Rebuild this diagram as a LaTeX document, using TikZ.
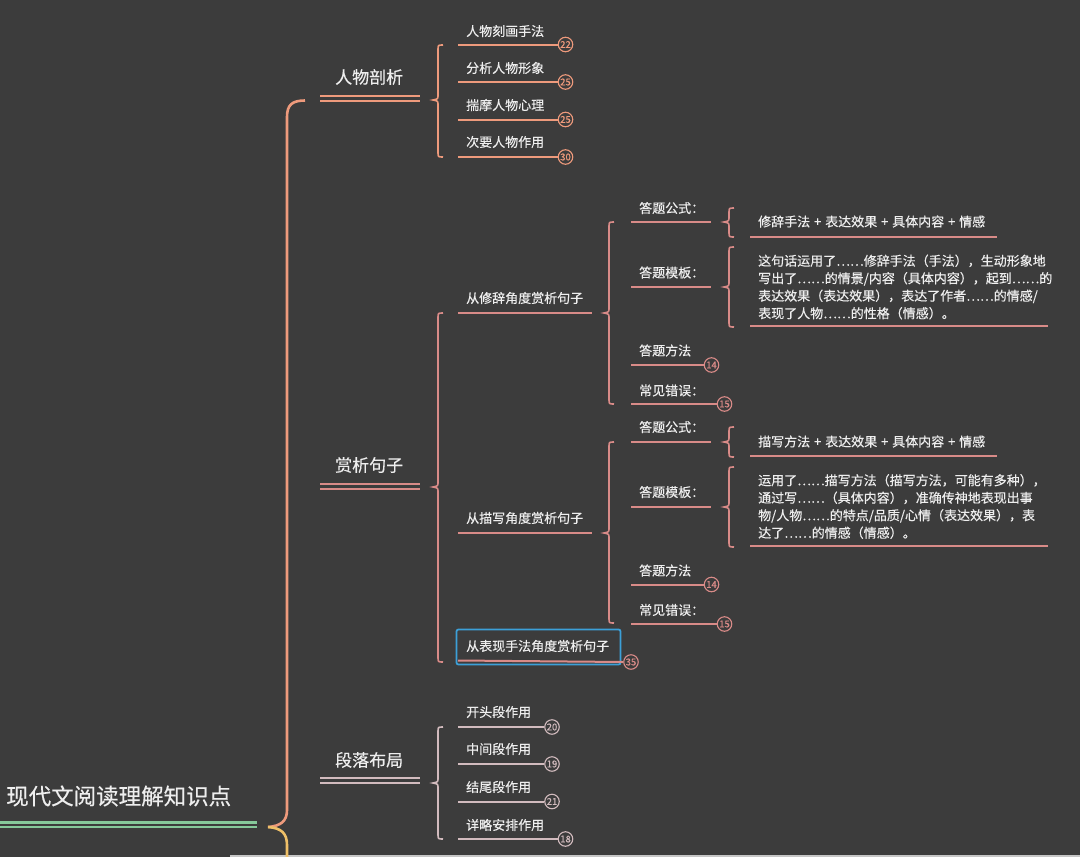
\documentclass[tikz,border=0pt]{standalone}
\usepackage{fontspec}
\setmainfont{Noto Sans CJK SC}[FakeBold=0.35]
\definecolor{bg}{HTML}{3C3C3C}
\definecolor{txt}{HTML}{EEEEEE}
\definecolor{rootc}{HTML}{86C99A}
\definecolor{orc}{HTML}{EE9A7C}
\definecolor{pkc}{HTML}{D98B88}
\definecolor{grc}{HTML}{D2BBBE}
\definecolor{goldc}{HTML}{EFC068}
\definecolor{bluec}{HTML}{3CA0D8}
\newcommand{\mmbrace}[5]{%
  \draw[#1, line width=1.6pt]
    (#2+5,#3) .. controls (#2,#3) .. (#2,#3+5) -- (#2,#4-5)
    .. controls (#2,#4-1) .. (#2-5,#4) .. controls (#2,#4+1) .. (#2,#4+5)
    -- (#2,#5-5) .. controls (#2,#5) .. (#2+5,#5);}
\newcommand{\pl}{\hspace{0.3em}+\hspace{0.3em}}
\tikzset{
  t13/.style={text=txt, font=\fontsize{13}{17.5}\selectfont, anchor=west, inner sep=0pt, align=left},
  t17/.style={text=txt, font=\fontsize{17}{20}\selectfont, anchor=west, inner sep=0pt},
  t22/.style={text=txt, font=\fontsize{22.5}{26}\selectfont, anchor=west, inner sep=0pt},
  badge/.style={circle, draw=#1, line width=1.1pt, minimum size=14.5pt, inner sep=0pt,
    font=\fontsize{9.5}{10}\selectfont, text=#1, fill=bg},
  uline/.style={line width=2pt},
}
\begin{document}
\begin{tikzpicture}[x=1pt,y=-1pt]
\fill[bg] (0,0) rectangle (1080,857);
\useasboundingbox (0,0) rectangle (1080,857);
\fill[gray!45] (230,855.3) rectangle (1080,857);

% ---------- root ----------
\node[t22] (root) at (6,796) {现代文阅读理解知识点};
\coordinate (rootL) at (0,822.5);
\coordinate (rootR) at (257,822.5);
\coordinate (rootL2) at (0,827);
\coordinate (rootR2) at (257,827);
\draw[rootc, uline, line width=2.6pt] (rootL) -- (rootR);
\draw[rootc, uline, line width=2.6pt] (rootL2) -- (rootR2);

% ---------- spine ----------
\coordinate (tip) at (268,827);
\coordinate (topend) at (305,100.5);
\draw[orc, line width=2.6pt] (tip) .. controls (281,826) and (287,821) .. (287,810)
   -- (287,117) .. controls (287,105) and (292,100.5) .. (topend);
\draw[goldc, line width=2.6pt] (tip) .. controls (281,828) and (287,833) .. (287,845) -- (287,858);

% ---------- level 1 ----------
\node[t17] (b1) at (335,77) {人物剖析};
\draw[orc, line width=2.2pt] (320,96) -- (420,96) (320,101) -- (420,101);
\node[t17] (b2) at (335,465) {赏析句子};
\draw[pkc, line width=2.2pt] (320,484) -- (420,484) (320,489) -- (420,489);
\node[t17] (b3) at (335,760) {段落布局};
\draw[grc, line width=2.2pt] (320,778) -- (420,778) (320,783) -- (420,783);

% ---------- 人物剖析 children ----------
\mmbrace{orc}{438}{45}{100}{157}
\node[t13] (a1) at (466,31) {人物刻画手法};
\node[t13] (a2) at (466,68) {分析人物形象};
\node[t13] (a3) at (466,105) {揣摩人物心理};
\node[t13] (a4) at (466,142) {次要人物作用};
\node[badge=orc] (ba1) at (565.5,44.5) {22};
\node[badge=orc] (ba2) at (565.5,82) {25};
\node[badge=orc] (ba3) at (565.5,119.5) {25};
\node[badge=orc] (ba4) at (565.5,157) {30};
\draw[orc, uline] (458,44.5) -- (ba1.west);
\draw[orc, uline] (458,82) -- (ba2.west);
\draw[orc, uline] (458,119.5) -- (ba3.west);
\draw[orc, uline] (458,157) -- (ba4.west);

% ---------- 赏析句子 children ----------
\mmbrace{pkc}{438}{313}{487}{662}
\node[t13] (s1) at (466,298) {从修辞角度赏析句子};
\draw[pkc, uline] (458,313) -- (592,313);
\node[t13] (s2) at (466,518) {从描写角度赏析句子};
\draw[pkc, uline] (458,533) -- (592,533);
\node[draw=bluec, line width=1.8pt, rounded corners=2pt, minimum width=164pt, minimum height=35pt, inner sep=0pt] (s3box) at (538.5,647) {};
\node[t13] (s3) at (466,646) {从表现手法角度赏析句子};
\node[badge=pkc] (bs3) at (631,662) {35};
\draw[pkc, uline] (458,660.5) -- (bs3.west);

% ---- 修辞 sub ----
\mmbrace{pkc}{609}{222}{313}{404}
\node[t13] (x1) at (639,208) {答题公式：};
\draw[pkc, uline] (631,222) -- (711,222);
\node[t13] (x2) at (639,272.5) {答题模板：};
\draw[pkc, uline] (631,287) -- (711,287);
\node[t13] (x3) at (639,350.5) {答题方法};
\node[badge=pkc] (bx3) at (711.5,365) {14};
\draw[pkc, uline] (631,365) -- (bx3.west);
\node[t13] (x4) at (639,390.5) {常见错误：};
\node[badge=pkc] (bx4) at (724.5,404) {15};
\draw[pkc, uline] (631,404) -- (bx4.west);

\mmbrace{pkc}{729}{208}{222}{237}
\node[t13] (x1a) at (758,221.5) {修辞手法\pl 表达效果\pl 具体内容\pl 情感};
\draw[pkc, uline] (750,237) -- (997,237);
\mmbrace{pkc}{729}{247}{287}{327}
\node[t13] (x2a) at (758,287) {这句话运用了……修辞手法（手法），生动形象地\\写出了……的情景/内容（具体内容），起到……的\\表达效果（表达效果），表达了作者……的情感/\\表现了人物……的性格（情感）。};
\draw[pkc, uline] (750,326) -- (1048,326);

% ---- 描写 sub ----
\mmbrace{pkc}{609}{442}{533}{623}
\node[t13] (y1) at (639,427) {答题公式：};
\draw[pkc, uline] (631,442) -- (711,442);
\node[t13] (y2) at (639,492) {答题模板：};
\draw[pkc, uline] (631,507) -- (711,507);
\node[t13] (y3) at (639,570.5) {答题方法};
\node[badge=pkc] (by3) at (711.5,584.5) {14};
\draw[pkc, uline] (631,584.5) -- (by3.west);
\node[t13] (y4) at (639,610) {常见错误：};
\node[badge=pkc] (by4) at (724.5,624) {15};
\draw[pkc, uline] (631,624) -- (by4.west);

\mmbrace{pkc}{729}{427}{442}{457}
\node[t13] (y1a) at (758,441.5) {描写方法\pl 表达效果\pl 具体内容\pl 情感};
\draw[pkc, uline] (750,456) -- (997,456);
\mmbrace{pkc}{729}{467}{507}{547}
\node[t13] (y2a) at (758,506.5) {运用了……描写方法（描写方法，可能有多种），\\通过写……（具体内容），准确传神地表现出事\\物/人物……的特点/品质/心情（表达效果），表\\达了……的情感（情感）。};
\draw[pkc, uline] (750,546) -- (1048,546);

% ---------- 段落布局 children ----------
\mmbrace{grc}{438}{727}{783}{839}
\node[t13] (p1) at (466,712) {开头段作用};
\node[t13] (p2) at (466,749) {中间段作用};
\node[t13] (p3) at (466,787) {结尾段作用};
\node[t13] (p4) at (466,825) {详略安排作用};
\node[badge=grc] (bp1) at (552,727) {20};
\node[badge=grc] (bp2) at (552,764) {19};
\node[badge=grc] (bp3) at (552,801.5) {21};
\node[badge=grc] (bp4) at (565.5,839) {18};
\draw[grc, uline] (458,727) -- (bp1.west);
\draw[grc, uline] (458,764) -- (bp2.west);
\draw[grc, uline] (458,801.5) -- (bp3.west);
\draw[grc, uline] (458,839) -- (bp4.west);
\end{tikzpicture}
\end{document}
